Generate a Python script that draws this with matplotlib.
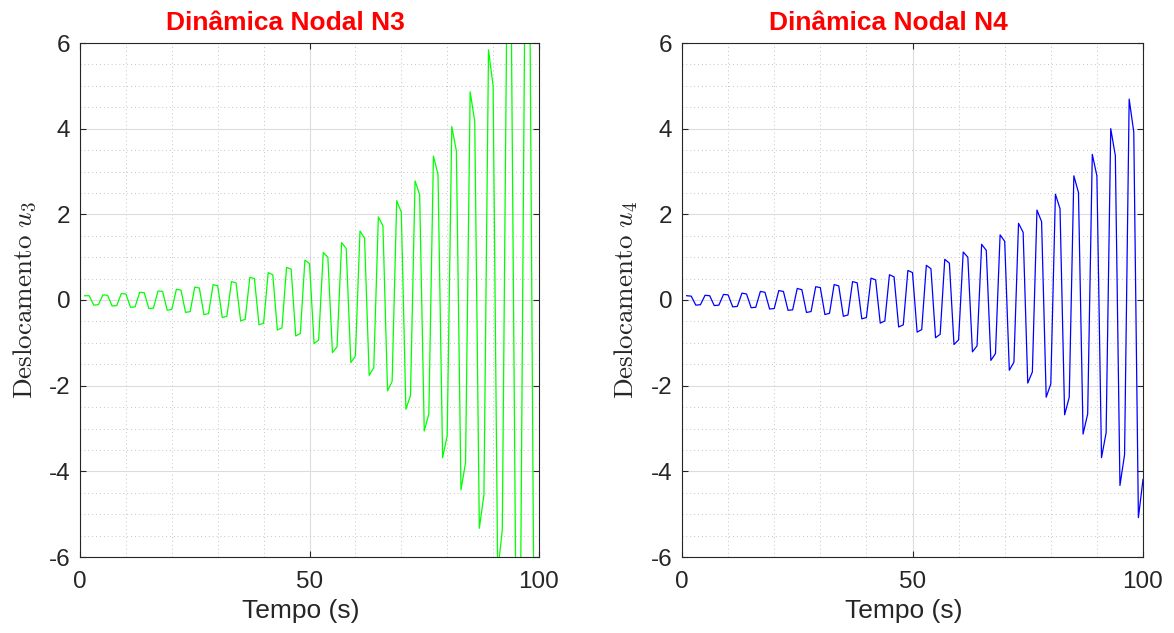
import matplotlib
matplotlib.use('Agg')
import matplotlib.pyplot as plt
from matplotlib.ticker import MultipleLocator, FixedLocator

plt.rcParams['font.family'] = ['Liberation Sans', 'DejaVu Sans']
plt.rcParams['mathtext.fontset'] = 'cm'
plt.rcParams['axes.unicode_minus'] = False

tempo = list(range(1, 101))

u3 = [0.10, 0.10, -0.12, -0.11, 0.12, 0.11, -0.14, -0.13, 0.15, 0.14,
      -0.17, -0.16, 0.18, 0.17, -0.20, -0.19, 0.21, 0.20, -0.24, -0.22,
      0.25, 0.23, -0.29, -0.27, 0.30, 0.28, -0.34, -0.32, 0.36, 0.33,
      -0.41, -0.38, 0.43, 0.40, -0.49, -0.45, 0.53, 0.50, -0.58, -0.54,
      0.64, 0.59, -0.70, -0.65, 0.76, 0.72, -0.84, -0.78, 0.93, 0.85,
      -1.02, -0.93, 1.11, 1.00, -1.23, -1.09, 1.34, 1.20, -1.46, -1.31,
      1.61, 1.44, -1.76, -1.58, 1.94, 1.73, -2.12, -1.90, 2.32, 2.05,
      -2.55, -2.23, 2.78, 2.46, -3.06, -2.66, 3.36, 2.93, -3.68, -3.17,
      4.05, 3.48, -4.43, -3.80, 4.86, 4.17, -5.33, -4.55, 5.84, 5.00,
      -6.35, -5.37, 7.00, 6.10, -7.60, -6.60, 8.40, 7.20, -9.20, -7.90]

u4 = [0.10, 0.09, -0.12, -0.11, 0.11, 0.10, -0.13, -0.12, 0.13, 0.12,
      -0.16, -0.15, 0.16, 0.14, -0.18, -0.17, 0.20, 0.18, -0.21, -0.20,
      0.22, 0.20, -0.24, -0.23, 0.27, 0.24, -0.29, -0.27, 0.31, 0.29,
      -0.34, -0.31, 0.36, 0.33, -0.38, -0.35, 0.43, 0.40, -0.44, -0.41,
      0.51, 0.47, -0.54, -0.49, 0.59, 0.54, -0.63, -0.58, 0.69, 0.64,
      -0.75, -0.69, 0.81, 0.73, -0.88, -0.80, 0.95, 0.86, -1.04, -0.93,
      1.12, 1.00, -1.21, -1.07, 1.30, 1.16, -1.41, -1.25, 1.52, 1.37,
      -1.64, -1.45, 1.79, 1.58, -1.94, -1.68, 2.10, 1.83, -2.27, -1.96,
      2.47, 2.13, -2.68, -2.27, 2.90, 2.51, -3.13, -2.66, 3.40, 2.90,
      -3.68, -3.10, 4.00, 3.37, -4.33, -3.61, 4.69, 3.92, -5.08, -4.19]

titles = ['Dinâmica Nodal N3', 'Dinâmica Nodal N4']
ylabels = [r'$\mathrm{Deslocamento}\ u_3$', r'$\mathrm{Deslocamento}\ u_4$']
xlabel = 'Tempo (s)'
series = [u3, u4]
colors = ['#00ff00', '#0000ff']

fig = plt.figure(figsize=(11.74, 6.33), dpi=100)
W, H = 1174, 633
positions = [[80 / W, 76 / H, 459 / W, 514 / H],
             [682 / W, 76 / H, 461 / W, 514 / H]]

dark = '#262626'
for pos, y, c, t, yl in zip(positions, series, colors, titles, ylabels):
    ax = fig.add_axes(pos)
    ax.plot(tempo, y, color=c, lw=0.9)
    ax.set_xlim(0, 100)
    ax.set_ylim(-6, 6)
    ax.xaxis.set_major_locator(FixedLocator([0, 50, 100]))
    ax.yaxis.set_major_locator(MultipleLocator(2))
    ax.xaxis.set_minor_locator(MultipleLocator(10))
    ax.yaxis.set_minor_locator(MultipleLocator(0.5))
    ax.set_axisbelow(True)
    ax.grid(True, which='major', color='#dcdcdc', lw=0.8, ls='-')
    ax.grid(True, which='minor', color='#c4c4c4', lw=0.7, ls=(0, (1, 3)))
    ax.tick_params(which='major', direction='in', length=4, width=0.8,
                   top=True, right=True, labelsize=17.5, colors=dark)
    ax.tick_params(axis='y', which='major', pad=7)
    ax.tick_params(axis='x', which='major', pad=10)
    ax.tick_params(which='minor', length=0, top=True, right=True)
    for s in ax.spines.values():
        s.set_color(dark)
        s.set_linewidth(0.8)
    ax.set_title(t, color='red', fontweight='bold', fontsize=19, pad=9,
                 x=0.447)
    ax.set_xlabel(xlabel, fontsize=19, color=dark, va='top')
    ax.xaxis.set_label_coords(0.48, -0.082)
    ax.set_ylabel(yl, fontsize=19.5, color=dark, labelpad=8)

fig.savefig('out.png', dpi=100)
